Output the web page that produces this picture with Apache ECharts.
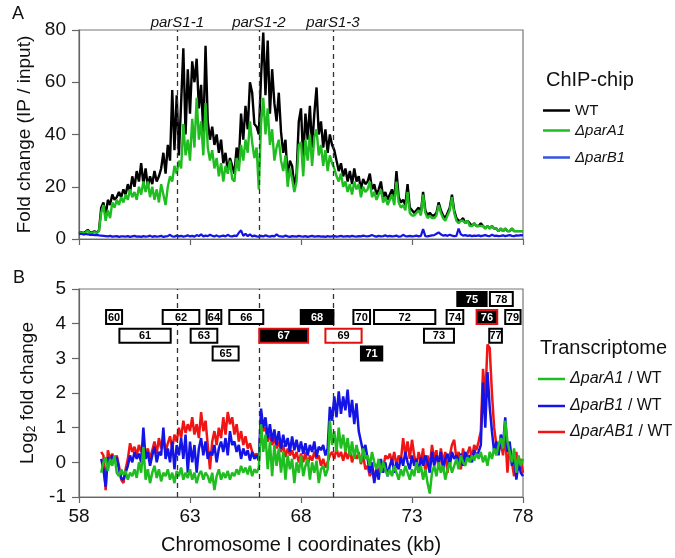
<!DOCTYPE html>
<html><head><meta charset="utf-8">
<script src="https://cdn.jsdelivr.net/npm/echarts@6/dist/echarts.min.js"></script>
<style>html,body{margin:0;padding:0;background:#fff}#c{width:675px;height:558px}</style>
</head><body><div id="c"></div>
<script>
// ---------- DATA ----------
// ChIP-chip probes: 58.0 kb to 78.0 kb, one probe per 0.1 kb
const chipStartKb = 58.0, chipStepKb = 0.1;
const chipWT = [
2.2,2.5,2.3,2.8,3.5,2.4,2.6,2.9,2.5,3.2,
12,14,9,15,13,17,15,16,18,16,
19,17,21,18,24,20,26,22,29,21,
27,20,24,21,26,22,24,27,33,25,
36,30,57,34,55,32,52,73,40,65,
48,68,60,69,50,59,40,74,45,38,
43,36,40,33,38,29,33,26,31,28,
25,35,30,48,38,51,42,60,56,44,
43,40,62,79,55,76,48,65,52,45,
56,41,33,38,23,30,28,20,25,45,
50,30,48,38,51,35,48,58,40,45,
35,42,33,40,36,34,30,26,29,24,
27,22,26,21,27,22,24,19,23,21,
22,25,19,21,17,19,22,16,18,15,
17,19,15,26,16,14,15,13,21,12,
11,10,11,12,10,18,11,9,10,9,
9,10,14,11,9,8,10,12,17,11,
8,7,7,8,6,7,6,5,6,5,
5,6,5,4,5,4,5,4,4,3,
4,3,4,3,3,4,3,3,3,3,
3];
const chipParA1 = [
2.0,2.3,2.1,2.5,3.2,2.2,2.4,2.6,2.3,3.0,
10,13,7,11,8,14,12,15,13,16,
14,17,15,19,16,18,15,20,17,22,
18,22,16,20,15,19,14,21,17,13,
20,24,22,28,25,30,27,44,32,38,
30,46,35,54,38,45,32,52,35,30,
34,27,31,24,29,22,28,25,30,23,
22,31,26,36,30,38,33,45,37,31,
35,19,44,54,40,50,36,42,30,35,
38,30,26,32,20,27,23,18,22,36,
37,24,38,30,40,28,39,42,32,36,
28,34,26,32,29,27,24,22,25,20,
22,18,21,17,22,19,21,16,20,18,
19,22,16,18,15,17,19,14,16,13,
15,17,13,22,14,12,13,11,18,10,
9,9,10,11,9,17,10,8,9,8,
8,9,13,10,8,7,9,11,16,10,
7,6,7,7,6,7,5,5,6,5,
5,5,5,4,5,4,5,4,4,3,
4,3,4,3,3,4,3,3,3,3,
3];
const chipParB1 = [
1.8,2.0,1.7,1.9,1.8,1.6,1.7,1.5,1.6,1.4,
1.3,1.2,1.1,1.0,1.2,0.9,1.0,1.1,0.8,1.0,
1.0,0.9,1.1,0.8,1.0,1.2,0.9,1.0,0.8,1.1,
0.9,1.0,1.3,0.8,1.1,0.9,1.0,1.2,0.8,1.0,
1.1,1.6,1.0,0.9,1.3,1.0,1.2,0.9,1.1,1.4,
1.0,1.2,0.9,1.5,1.1,1.8,1.0,1.3,1.1,1.6,
1.2,1.0,1.4,0.9,1.1,1.3,1.0,1.6,1.1,1.0,
1.3,1.1,2.4,3.3,1.2,2.0,1.1,1.8,1.0,1.3,
1.0,0.9,1.2,1.0,1.4,1.1,0.9,1.2,1.0,1.8,
1.1,1.0,0.9,1.3,1.0,0.8,1.1,1.0,0.9,1.2,
1.0,0.9,1.1,0.8,1.0,1.2,0.9,1.0,1.1,0.9,
1.0,0.8,1.1,0.9,1.0,1.1,0.9,1.0,1.2,0.9,
1.0,1.1,0.9,1.2,1.0,0.9,1.1,1.0,1.3,1.1,
1.0,1.2,1.5,1.1,0.9,1.2,1.0,1.1,1.4,1.0,
1.2,1.0,1.1,1.3,0.9,1.0,1.6,1.1,1.0,1.2,
1.0,1.1,1.3,1.0,1.2,3.8,1.1,1.0,1.2,1.4,
1.5,2.0,2.5,1.8,1.3,1.5,1.2,1.6,1.3,1.1,
1.2,4.0,1.8,1.3,1.5,1.2,1.4,1.1,1.3,1.2,
1.4,1.1,1.3,1.5,1.2,1.1,1.6,1.2,1.3,1.1,
1.2,1.4,1.1,1.3,1.5,1.2,1.1,1.4,1.3,1.5,
1.4];

// Transcriptome probes: 59.0 kb to 78.0 kb, one per 0.1 kb (log2 fold change)
const txStartKb = 59.0, txStepKb = 0.1;
const txParAB1 = [
0.3,0.2,-0.8,0.35,0.1,0.25,0.0,0.2,-0.1,-0.5,
-0.6,-0.2,0.1,0.55,0.3,0.45,0.2,0.5,0.3,0.45,
0.2,0.4,0.1,0.35,0.6,0.25,0.7,0.4,0.65,0.3,
0.55,0.75,0.4,0.8,0.6,1.0,0.7,1.2,0.85,1.1,
0.9,1.3,0.8,1.1,0.7,1.45,0.9,1.2,0.5,-0.2,
0.6,0.9,0.5,1.0,0.7,1.3,0.8,1.45,1.1,1.3,
0.8,1.1,0.6,0.9,0.5,0.75,0.4,0.55,0.3,0.2,
0.25,0.1,1.2,0.9,1.0,0.6,0.8,0.5,0.7,0.4,
0.6,0.3,0.5,0.15,0.4,0.2,0.35,0.1,0.3,0.0,
0.25,0.0,0.3,-0.1,0.2,0.05,0.3,0.1,0.2,-0.1,
0.1,-0.15,0.0,0.2,0.3,0.1,0.4,0.15,0.3,0.05,
0.3,0.1,0.35,0.0,0.25,0.1,0.3,-0.05,0.2,-0.2,
-0.1,-0.4,-0.2,-0.5,-0.15,-0.3,0.0,-0.2,0.2,0.1,
0.25,0.0,0.3,-0.1,0.2,0.05,0.7,0.2,0.6,0.1,
0.65,0.2,-0.1,0.3,0.0,0.4,-0.3,0.2,-0.1,0.5,
0.1,0.35,-0.2,0.4,0.0,0.3,-0.3,0.2,0.5,0.65,
0.1,0.3,-0.2,0.4,0.0,0.25,0.45,0.1,0.5,0.35,
0.6,0.9,2.7,1.8,3.4,3.3,2.0,1.0,0.5,0.3,
0.6,0.2,0.8,-0.3,0.5,0.0,-0.4,0.3,-0.2,0.1,
-0.3];
const txParB1 = [
0.1,-0.2,-0.7,0.15,0.0,0.2,0.05,0.15,-0.2,-0.45,
-0.5,-0.3,-0.1,0.2,0.0,0.3,0.1,0.25,0.0,1.0,
0.1,0.3,-0.1,0.2,0.45,0.0,0.3,0.2,1.0,0.1,
0.4,0.0,0.6,-0.2,0.5,0.2,0.7,0.1,0.8,-0.3,
0.6,0.0,0.5,-0.3,0.4,0.7,0.2,0.6,0.1,0.3,
0.2,0.5,0.0,0.4,0.6,0.3,0.7,0.2,0.9,0.5,
0.6,0.3,0.5,0.1,0.4,0.2,0.35,0.05,0.3,0.1,
0.2,0.05,1.55,1.0,1.3,0.7,1.1,0.6,0.95,0.5,
0.9,0.4,0.8,0.45,0.7,0.3,0.75,0.35,0.65,0.3,
0.6,0.25,0.55,0.2,0.5,0.3,0.6,0.15,0.45,0.35,
0.5,0.2,0.4,1.6,1.2,1.9,1.3,2.05,1.4,1.9,
1.5,2.1,1.3,1.8,1.1,1.7,0.9,0.6,0.3,0.5,
0.1,-0.3,0.0,-0.6,-0.2,-0.5,0.1,-0.3,0.0,-0.4,
-0.1,0.1,-0.3,0.0,-0.2,0.15,-0.1,0.3,0.0,-0.2,
0.2,-0.1,0.1,-0.3,0.15,-0.1,0.2,0.0,-0.3,0.3,
-0.1,0.2,0.0,0.3,-0.2,0.1,0.25,-0.1,0.3,0.1,
0.2,0.0,0.25,-0.1,0.3,0.1,0.2,0.0,0.35,0.2,
0.3,0.5,2.3,1.0,2.6,1.6,0.9,0.3,0.6,0.2,
0.8,0.5,1.3,0.3,0.6,-0.1,0.2,-0.5,0.0,-0.3,
-0.4];
const txParA1 = [
-0.3,0.0,0.15,-0.25,0.1,-0.1,0.2,-0.3,-0.4,-0.2,
-0.35,-0.25,-0.5,-0.3,-0.4,-0.2,-0.45,0.0,-0.3,0.45,
-0.5,-0.2,-0.6,-0.3,-0.1,-0.45,-0.2,-0.55,-0.3,-0.4,
-0.2,-0.5,-0.3,-0.6,-0.25,-0.4,-0.15,-0.5,-0.3,-0.45,
-0.2,-0.5,-0.3,-0.6,-0.35,-0.25,-0.5,-0.3,-0.4,-0.6,
-0.3,-0.8,-0.4,-0.2,-0.5,-0.3,-0.45,-0.25,-0.5,-0.3,
-0.4,-0.2,-0.35,-0.1,-0.3,-0.15,-0.35,-0.1,-0.4,-0.2,
-0.3,-0.15,1.1,0.3,0.8,-0.2,0.6,-0.4,0.5,-0.1,
0.4,-0.3,0.3,-0.5,0.2,-0.2,0.1,-0.6,0.0,-0.3,
0.2,-0.4,-0.1,0.1,-0.5,0.0,-0.3,0.05,-0.6,-0.2,
-0.1,-0.4,-0.2,1.2,0.5,0.9,0.3,1.0,0.4,0.8,
0.3,0.7,0.2,0.6,0.1,0.5,0.2,0.0,0.4,0.1,
0.2,-0.1,0.3,0.0,-0.2,0.1,-0.3,0.0,-0.2,-0.4,
-0.2,-0.4,-0.1,-0.3,-0.5,-0.2,-0.4,-0.1,-0.3,-0.5,
-0.2,-0.4,0.0,-0.3,-0.1,-0.5,-0.2,-0.6,-0.9,-0.3,
-0.1,-0.4,0.0,-0.3,-0.1,-0.5,-0.2,0.0,-0.3,-0.1,
0.1,-0.2,0.2,0.0,-0.1,0.15,0.0,0.2,0.05,0.25,
0.1,0.3,0.0,0.2,-0.1,0.3,0.1,0.4,0.2,0.5,
0.7,0.4,1.2,0.6,0.3,0.0,0.4,-0.3,0.2,-0.1,
0.1];

// parS sites (kb)
const parSNames = ['parS1-1', 'parS1-2', 'parS1-3'];
const parSKb = [62.43, 66.1, 69.44];

// Genes (VC0060..VC0079): start kb, end kb, track row, label, class
// class: w = unchanged, b = regulated, br = regulated (boxed red), wr = unchanged (boxed red)
const geneStart = [59.22,59.82,61.77,63.03,63.75,64.02,64.77,66.12,67.99,69.10,70.36,70.70,71.29,73.54,74.56,75.04,75.91,76.48,76.51,77.20];
const geneEnd   = [59.94,62.13,63.42,64.23,64.41,65.19,66.30,68.32,69.46,70.73,71.11,71.66,74.05,74.89,75.31,76.36,76.84,77.05,77.54,77.89];
const geneRow   = [1,2,1,2,1,3,1,2,1,2,1,3,1,2,1,0,1,2,0,1];
const geneLabel = ['60','61','62','63','64','65','66','67','68','69','70','71','72','73','74','75','76','77','78','79'];
const geneClass = ['w','w','w','w','w','w','w','br','b','wr','w','b','w','w','w','b','br','w','w','w'];
const rowValue = [4.71, 4.19, 3.65, 3.14]; // log2 axis level for each track row

const xTicks = [58, 63, 68, 73, 78];

// ---------- CHART ----------
const FONT = 'Liberation Sans, Arial, sans-serif';
const GREEN = '#1fbd1f', BLUE = '#1414e6', RED = '#f01414';
const toPairs = (start, step, arr) => arr.map((v, i) => [+(start + i * step).toFixed(2), v]);

const chart = echarts.init(document.getElementById('c'), null, {renderer: 'canvas'});

const axisLineStyle = {color: '#666', width: 1.2};
function xAxisCfg(gridIndex, showLabels) {
  return {
    type: 'value', gridIndex, min: 58, max: 78,
    axisLine: {show: true, onZero: false, lineStyle: axisLineStyle},
    axisTick: {show: true, inside: false, length: 6, lineStyle: axisLineStyle, customValues: xTicks},
    axisLabel: {show: showLabels, customValues: xTicks, fontSize: 19, color: '#111', fontFamily: FONT, margin: 10},
    splitLine: {show: false}
  };
}

const legendFmt = name => {
  if (name === 'WT') return name;
  const parts = name.split(' / ');
  return parts.length > 1 ? '{i|' + parts[0] + '} / ' + parts[1] : '{i|' + name + '}';
};
function legendCfg(name, left, top, size) {
  return {
    data: [name], left, top, orient: 'vertical', padding: 0,
    itemWidth: 27, itemHeight: 2.5, icon: 'rect',
    formatter: legendFmt,
    textStyle: {fontSize: size, color: '#111', fontFamily: FONT,
      rich: {i: {fontSize: size, fontStyle: 'italic', fontFamily: FONT, color: '#111'}}}
  };
}

function renderGene(params, api) {
  const i = params.dataIndex;
  const yv = api.value(2);
  const p0 = api.coord([api.value(0), yv]);
  const p1 = api.coord([api.value(1), yv]);
  const h = 14;
  const cls = geneClass[i];
  const dark = cls === 'b' || cls === 'br';
  const redEdge = cls === 'br' || cls === 'wr';
  return {
    type: 'group',
    children: [
      {type: 'rect', shape: {x: p0[0], y: p0[1] - h / 2, width: p1[0] - p0[0], height: h},
       style: {fill: dark ? '#000' : '#fff', stroke: redEdge ? '#e01010' : '#000', lineWidth: 2}},
      {type: 'text', style: {text: geneLabel[i], x: (p0[0] + p1[0]) / 2, y: p0[1] + 0.5,
        align: 'center', verticalAlign: 'middle', fill: dark ? '#fff' : '#000',
        font: 'bold 11px ' + FONT}}
    ]
  };
}

const vline = {type: [5, 4], color: '#333', width: 1.3};

const option = {
  animation: false,
  backgroundColor: '#fff',
  title: [
    {text: 'A', left: 7, top: 0, textStyle: {fontSize: 18, fontWeight: 'normal', color: '#111', fontFamily: FONT}},
    {text: 'B', left: 8, top: 264, textStyle: {fontSize: 18, fontWeight: 'normal', color: '#111', fontFamily: FONT}},
    {text: 'ChIP-chip', left: 541, top: 65, textStyle: {fontSize: 20, fontWeight: 'normal', color: '#111', fontFamily: FONT}},
    {text: 'Transcriptome', left: 535, top: 333, textStyle: {fontSize: 20, fontWeight: 'normal', color: '#111', fontFamily: FONT}}
  ],
  legend: [
    legendCfg('WT', 543, 103, 15),
    legendCfg('ΔparA1', 543, 123, 15),
    legendCfg('ΔparB1', 543, 150, 15),
    legendCfg('ΔparA1 / WT', 538, 371, 16),
    legendCfg('ΔparB1 / WT', 538, 398, 16),
    legendCfg('ΔparAB1 / WT', 538, 424, 16)
  ],
  grid: [
    {left: 79, right: 152, top: 30, height: 209, show: true, borderColor: '#777', borderWidth: 1.2, backgroundColor: 'transparent'},
    {left: 79, right: 152, top: 289, height: 208, show: true, borderColor: '#777', borderWidth: 1.2, backgroundColor: 'transparent'}
  ],
  xAxis: [
    xAxisCfg(0, false),
    Object.assign(xAxisCfg(1, true), {
      name: 'Chromosome I coordinates (kb)', nameLocation: 'middle', nameGap: 38,
      nameTextStyle: {fontSize: 20, color: '#111', fontFamily: FONT}
    })
  ],
  yAxis: [
    {type: 'value', gridIndex: 0, min: 0, max: 80, interval: 20,
     axisLine: {show: true, lineStyle: axisLineStyle},
     axisTick: {show: true, length: 7, lineStyle: axisLineStyle},
     axisLabel: {fontSize: 19, color: '#111', fontFamily: FONT, margin: 13},
     splitLine: {show: false},
     name: 'Fold change (IP / input)', nameLocation: 'middle', nameGap: 38,
     nameTextStyle: {fontSize: 19, color: '#111', fontFamily: FONT}},
    {type: 'value', gridIndex: 1, min: -1, max: 5, interval: 1,
     axisLine: {show: true, onZero: false, lineStyle: axisLineStyle},
     axisTick: {show: true, length: 7, lineStyle: axisLineStyle},
     axisLabel: {fontSize: 19, color: '#111', fontFamily: FONT, margin: 13},
     splitLine: {show: false},
     name: 'Log{sub|2} fold change', nameLocation: 'middle', nameGap: 41,
     nameTextStyle: {fontSize: 19, color: '#111', fontFamily: FONT,
       rich: {sub: {fontSize: 12, fontFamily: FONT, color: '#111', padding: [9, 0, 0, 0]}}}}
  ],
  series: [
    {name: 'WT', type: 'line', xAxisIndex: 0, yAxisIndex: 0, symbol: 'none', color: '#000',
     lineStyle: {width: 2.4, color: '#000'}, data: toPairs(chipStartKb, chipStepKb, chipWT), z: 2,
     markLine: {symbol: 'none', silent: true, lineStyle: vline,
       label: {show: true, position: 'end', distance: 0, formatter: '{b}', fontSize: 15, fontStyle: 'italic', color: '#111', fontFamily: FONT},
       data: parSKb.map((v, i) => ({xAxis: v, name: parSNames[i]}))}},
    {name: 'ΔparA1', type: 'line', xAxisIndex: 0, yAxisIndex: 0, symbol: 'none', color: GREEN,
     lineStyle: {width: 2.4, color: GREEN}, data: toPairs(chipStartKb, chipStepKb, chipParA1), z: 3},
    {name: 'ΔparB1', type: 'line', xAxisIndex: 0, yAxisIndex: 0, symbol: 'none', color: '#3355e0',
     lineStyle: {width: 2.2, color: BLUE}, data: toPairs(chipStartKb, chipStepKb, chipParB1), z: 4},
    {name: 'ΔparAB1 / WT', type: 'line', xAxisIndex: 1, yAxisIndex: 1, symbol: 'none', color: RED,
     lineStyle: {width: 2.5, color: RED}, data: toPairs(txStartKb, txStepKb, txParAB1), z: 2,
     markLine: {symbol: 'none', silent: true, lineStyle: vline, label: {show: false},
       data: parSKb.map(v => ({xAxis: v}))}},
    {name: 'ΔparB1 / WT', type: 'line', xAxisIndex: 1, yAxisIndex: 1, symbol: 'none', color: BLUE,
     lineStyle: {width: 2.5, color: BLUE}, data: toPairs(txStartKb, txStepKb, txParB1), z: 3},
    {name: 'ΔparA1 / WT', type: 'line', xAxisIndex: 1, yAxisIndex: 1, symbol: 'none', color: GREEN,
     lineStyle: {width: 2.5, color: GREEN}, data: toPairs(txStartKb, txStepKb, txParA1), z: 4},
    {name: 'genes', type: 'custom', xAxisIndex: 1, yAxisIndex: 1, renderItem: renderGene,
     encode: {x: [0, 1], y: 2}, z: 6,
     data: geneStart.map((s, i) => [s, geneEnd[i], rowValue[geneRow[i]]])}
  ]
};
chart.setOption(option);
</script></body></html>
